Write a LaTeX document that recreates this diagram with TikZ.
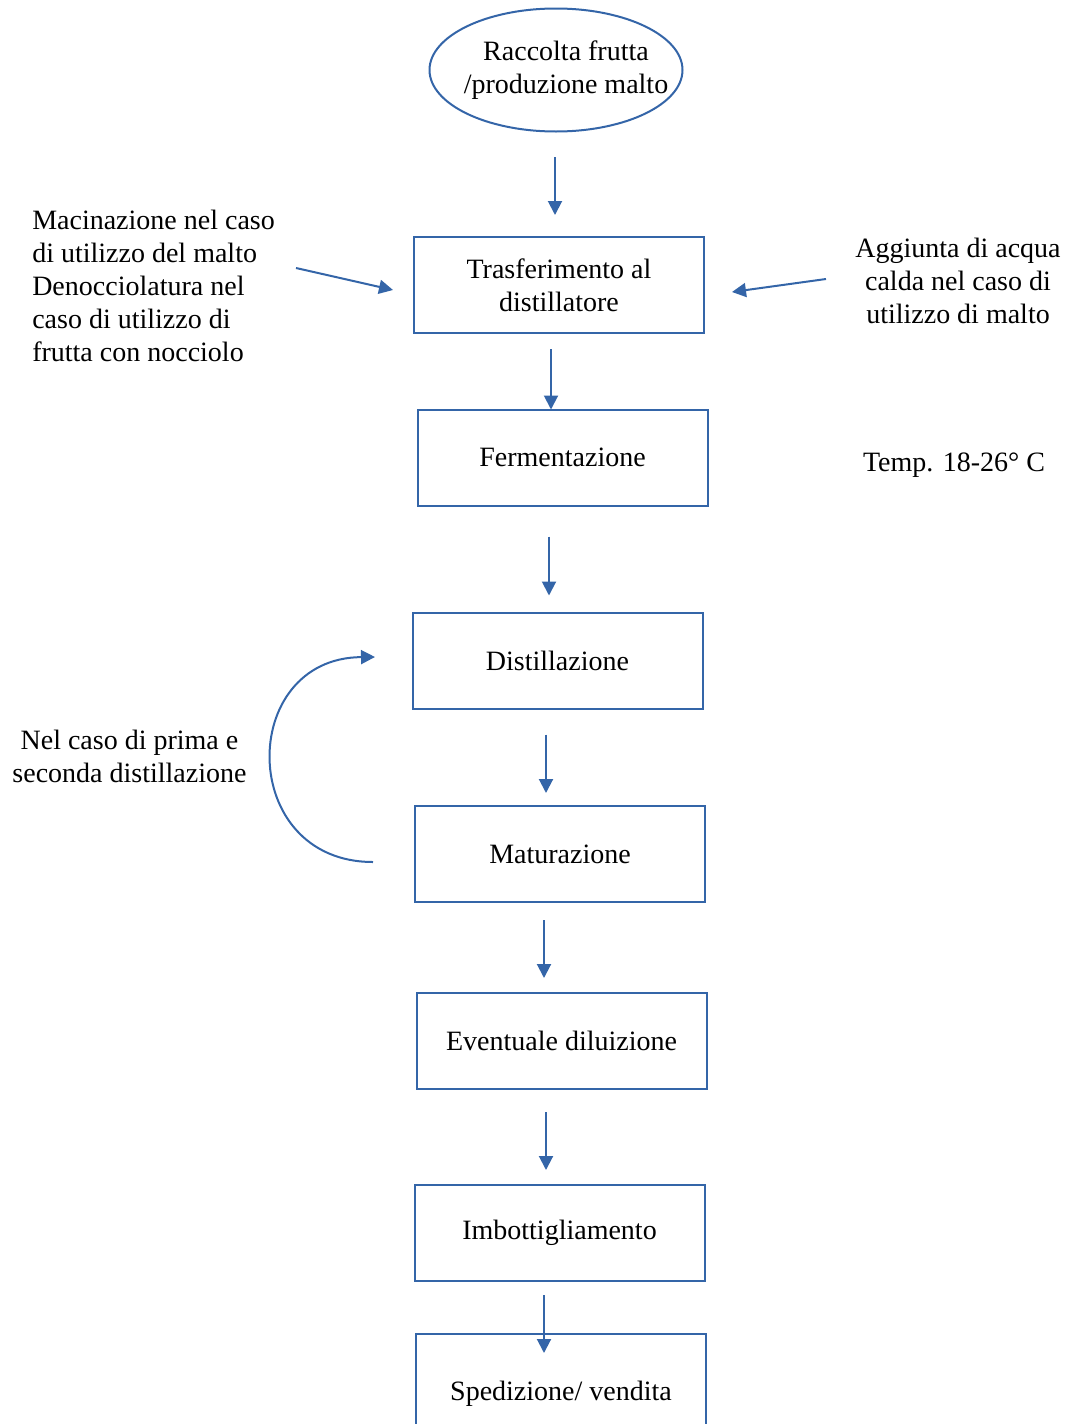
\documentclass[tikz,border=0pt]{standalone}
\usepackage{fontspec}
\setmainfont{Liberation Serif}
\usetikzlibrary{shapes.geometric,arrows.meta,calc}
\definecolor{flowblue}{RGB}{52,101,168}
\tikzset{
  stage/.style={draw=flowblue, line width=1.5pt, minimum width=217.5pt, minimum height=72pt,
    inner sep=0pt, align=center, font=\fontsize{21}{24.75}\selectfont},
  note/.style={inner sep=0pt, align=center, font=\fontsize{21}{24.75}\selectfont},
  flow/.style={draw=flowblue, line width=1.5pt, -{Triangle[length=10.5pt,width=10.5pt]}},
}
\begin{document}
\begin{tikzpicture}[x=0.75pt,y=-0.75pt]
        \clip (0,0) rectangle (1066,1424);

        % Draw the stages
        \node[draw=flowblue, line width=1.5pt, ellipse, minimum width=189.75pt, minimum height=92.25pt] (start) at (556,70) {};
        \node[note] (starttext) at (566,70) {Raccolta frutta\\/produzione malto};
        \node[stage] (transfer) at (559,285) {Trasferimento al\\distillatore};
        \node[stage] (ferment) at (562.5,457.5) {Fermentazione};
        \node[stage] (distil) at (557.5,660.5) {Distillazione};
        \node[stage] (mature) at (560,854) {Maturazione};
        \node[stage] (dilute) at (561.5,1041) {Eventuale diluizione};
        \node[stage] (bottle) at (559.5,1233) {Imbottigliamento};
        \node[stage, minimum height=90pt] (ship) at (561,1394) {Spedizione/ vendita};

        % Side notes
        \node[note, align=left, anchor=west] (milling) at (32,286) {Macinazione nel caso\\di utilizzo del malto\\Denocciolatura nel\\caso di utilizzo di\\frutta con nocciolo};
        \node[note] (water) at (958,281) {Aggiunta di acqua\\calda nel caso di\\utilizzo di malto};
        \node[note] (temp) at (954,465) {Temp. 18-26° C};
        \node[note] (twice) at (129.5,756.5) {Nel caso di prima e\\seconda distillazione};

        % Free ends of the side arrows
        \coordinate (millingend) at (296,268);
        \coordinate (waterend) at (826,279);
        \coordinate (loopbottom) at (373,862);
        \coordinate (looptop) at (375,657);

        % Draw the main flow
        \draw[flow] ($(start.south)+(-1,24.5)$) -- ($(transfer.north)+(-4,-21)$);
        \draw[flow] ($(transfer.south)+(-8,15)$) -- ($(ferment.north)+(-11.5,1)$);
        \draw[flow] ($(ferment.south)+(-13.5,30)$) -- ($(distil.north)+(-8.5,-16)$);
        \draw[flow] ($(distil.south)+(-11.5,25)$) -- ($(mature.north)+(-14,-12)$);
        \draw[flow] ($(mature.south)+(-16,17)$) -- ($(dilute.north)+(-17.5,-14)$);
        \draw[flow] ($(dilute.south)+(-15.5,22)$) -- ($(bottle.north)+(-13.5,-14)$);
        \draw[flow] ($(bottle.south)+(-15.5,13)$) -- ($(ship.north)+(-17,20)$);

        % Side arrows
        \draw[flow] (millingend) -- ($(transfer.west)+(-20,5)$);
        \draw[flow] (waterend) -- ($(transfer.east)+(27,7)$);
        \draw[flow] (loopbottom) .. controls (237,862) and (237,658) .. (looptop);

        \end{tikzpicture}
\end{document}
